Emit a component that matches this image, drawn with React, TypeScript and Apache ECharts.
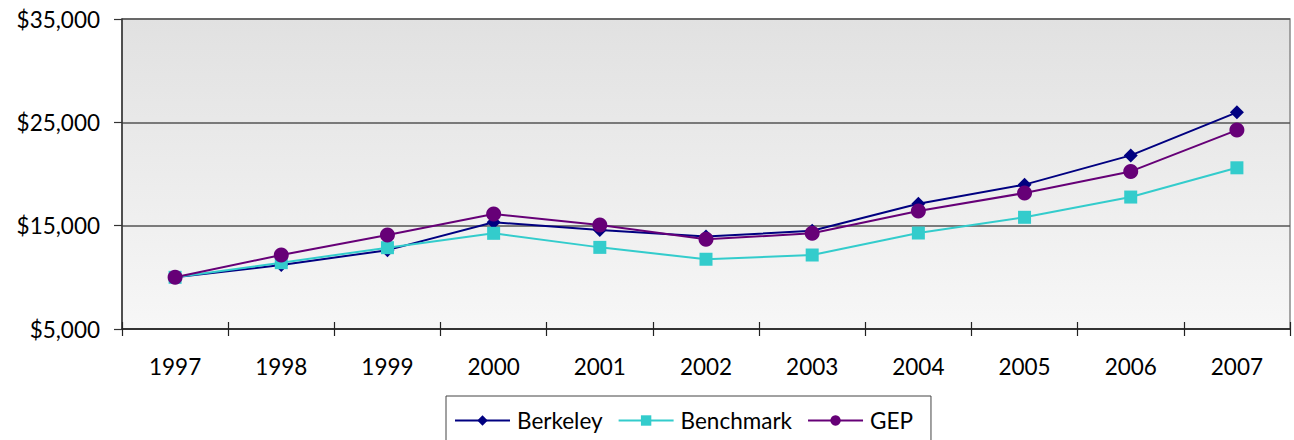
import React, { useEffect, useRef } from "react";
import * as echarts from "echarts";

const years = ["1997", "1998", "1999", "2000", "2001", "2002", "2003", "2004", "2005", "2006", "2007"];
const berkeley = [10000, 11190, 12630, 15330, 14580, 13940, 14510, 17130, 18970, 21800, 25970];
const benchmark = [10000, 11420, 12870, 14260, 12900, 11750, 12160, 14290, 15810, 17770, 20600];
const gep = [10000, 12160, 14100, 16130, 15070, 13680, 14260, 16420, 18160, 20250, 24250];

const FONT = "Lato, 'DejaVu Sans', sans-serif";
const FS = 22.5;

export default function App() {
  const ref = useRef<HTMLDivElement>(null);
  useEffect(() => {
    if (!ref.current) return;
    const chart = echarts.init(ref.current, undefined, { renderer: "svg" });
    const mk = (name: string, data: number[], color: string, symbol: string, size: number) => ({
      name,
      type: "line",
      data,
      symbol,
      symbolSize: size,
      lineStyle: { color, width: 2 },
      itemStyle: { color },
      z: 3,
    });
    chart.setOption({
      animation: false,
      backgroundColor: "#ffffff",
      grid: {
        left: 122,
        right: 4,
        top: 19,
        height: 310,
        show: true,
        borderColor: "#8a8a8a",
        borderWidth: 1.5,
        backgroundColor: new echarts.graphic.LinearGradient(0, 0, 0, 1, [
          { offset: 0, color: "#e1e1e1" },
          { offset: 1, color: "#f7f7f7" },
        ]),
      },
      xAxis: [
        {
          type: "category",
          data: years,
          boundaryGap: true,
          axisLine: { show: true, lineStyle: { color: "#222", width: 1.5 } },
          axisTick: { show: true, inside: false, length: 7, lineStyle: { color: "#222", width: 1.2 } },
          axisLabel: { color: "#000", fontSize: FS, fontFamily: FONT, margin: 26 },
          splitLine: { show: false },
        },
        {
          type: "category",
          data: years,
          position: "bottom",
          boundaryGap: true,
          axisLine: { show: false },
          axisTick: { show: true, inside: true, length: 7, lineStyle: { color: "#222", width: 1.2 } },
          axisLabel: { show: false },
          splitLine: { show: false },
        },
      ],
      yAxis: {
        type: "value",
        min: 5000,
        max: 35000,
        interval: 10000,
        axisLine: { show: true, lineStyle: { color: "#333", width: 1.5 } },
        axisTick: { show: true, inside: false, length: 8, lineStyle: { color: "#333", width: 1.2 } },
        axisLabel: {
          color: "#000",
          fontSize: FS,
          fontFamily: FONT,
          margin: 22,
          formatter: (v: number) => "$" + v.toLocaleString("en-US"),
        },
        splitLine: { show: true, lineStyle: { color: "#555", width: 1.5 } },
      },
      legend: {
        show: true,
        top: 396,
        left: 446,
        orient: "horizontal",
        borderColor: "#444",
        borderWidth: 1,
        padding: [13, 18, 14, 8],
        itemGap: 15,
        itemWidth: 55,
        itemHeight: 13,
        textStyle: { color: "#000", fontSize: FS, fontFamily: FONT, padding: [0, 0, 0, 2] },
        data: ["Berkeley", "Benchmark", "GEP"],
      },
      series: [
        mk("Berkeley", berkeley, "#000080", "diamond", 14),
        mk("Benchmark", benchmark, "#33cccc", "rect", 13),
        mk("GEP", gep, "#660077", "circle", 15),
      ],
    });
    return () => chart.dispose();
  }, []);
  return (
    <div
      ref={ref}
      style={{ position: "fixed", left: 0, top: 0, width: 1294, height: 440 }}
    />
  );
}
